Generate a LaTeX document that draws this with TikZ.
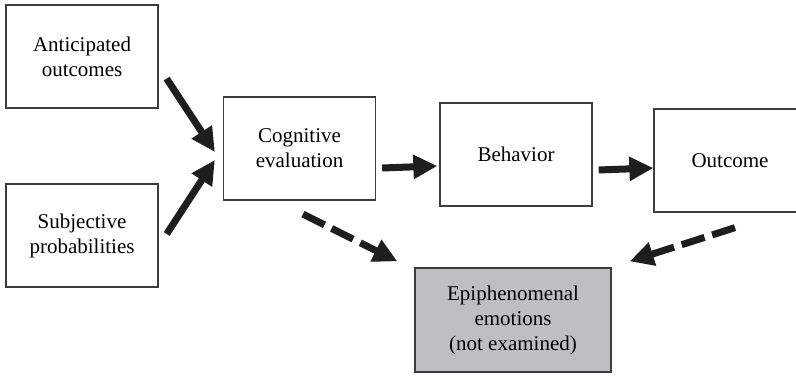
\documentclass[tikz,border=0pt]{standalone}
\usepackage{fontspec}
\setmainfont{LiberationSerif}[Extension=.ttf, UprightFont=*-Regular]
\usepackage{tikz}
\usetikzlibrary{arrows.meta}

\definecolor{boxline}{RGB}{60,60,60}
\definecolor{epigray}{RGB}{190,191,195}
\definecolor{arrowblack}{RGB}{30,30,30}

\begin{document}
\begin{tikzpicture}[x=0.5pt,y=0.5pt,
  box/.style={draw=boxline, line width=0.65pt, minimum width=76pt, minimum height=51.5pt,
    align=center, inner sep=0pt, font=\rmfamily\fontsize{10.5}{12.5}\selectfont},
  bigarrow/.style={draw=arrowblack, line width=3.5pt,
    -{Triangle[length=12pt,width=11.5pt]}},
  dasharrow/.style={bigarrow, dash pattern=on 12pt off 4pt}]

\useasboundingbox (0,0) rectangle (796,375);

\node[box] (ant) at (82,318.5) {Anticipated\\outcomes};
\node[box] (subj) at (82,139.5) {Subjective\\probabilities};
\node[box] (cog) at (299.5,226.5) {Cognitive\\evaluation};
\node[box] (beh) at (516,220.5) {Behavior};
\node[box] (out) at (730,214.5) {Outcome};
\node[box, fill=epigray, minimum width=98pt, minimum height=52pt] (epi) at (513,55)
  {Epiphenomenal\\emotions\\(not examined)};

\draw[bigarrow] ([shift={(8,30)}]ant.south east) -- ([shift={(-8,-3.5)}]cog.west);
\draw[bigarrow] ([shift={(8,1.5)}]subj.east) -- ([shift={(-8,-11.5)}]cog.west);

\draw[bigarrow] ([shift={(6,-19.5)}]cog.east) -- ([shift={(-2,-11.5)}]beh.west);
\draw[bigarrow] ([shift={(6,-15.5)}]beh.east) -- ([shift={(0,-7.5)}]out.west);

%dashed ones go down to the grey box
\draw[dasharrow] ([shift={(3.5,-13.5)}]cog.south) -- ([shift={(-17,6)}]epi.north west);
\draw[dasharrow] ([shift={(5,-15)}]out.south) -- ([shift={(18,6)}]epi.north east);

\end{tikzpicture}
\end{document}
